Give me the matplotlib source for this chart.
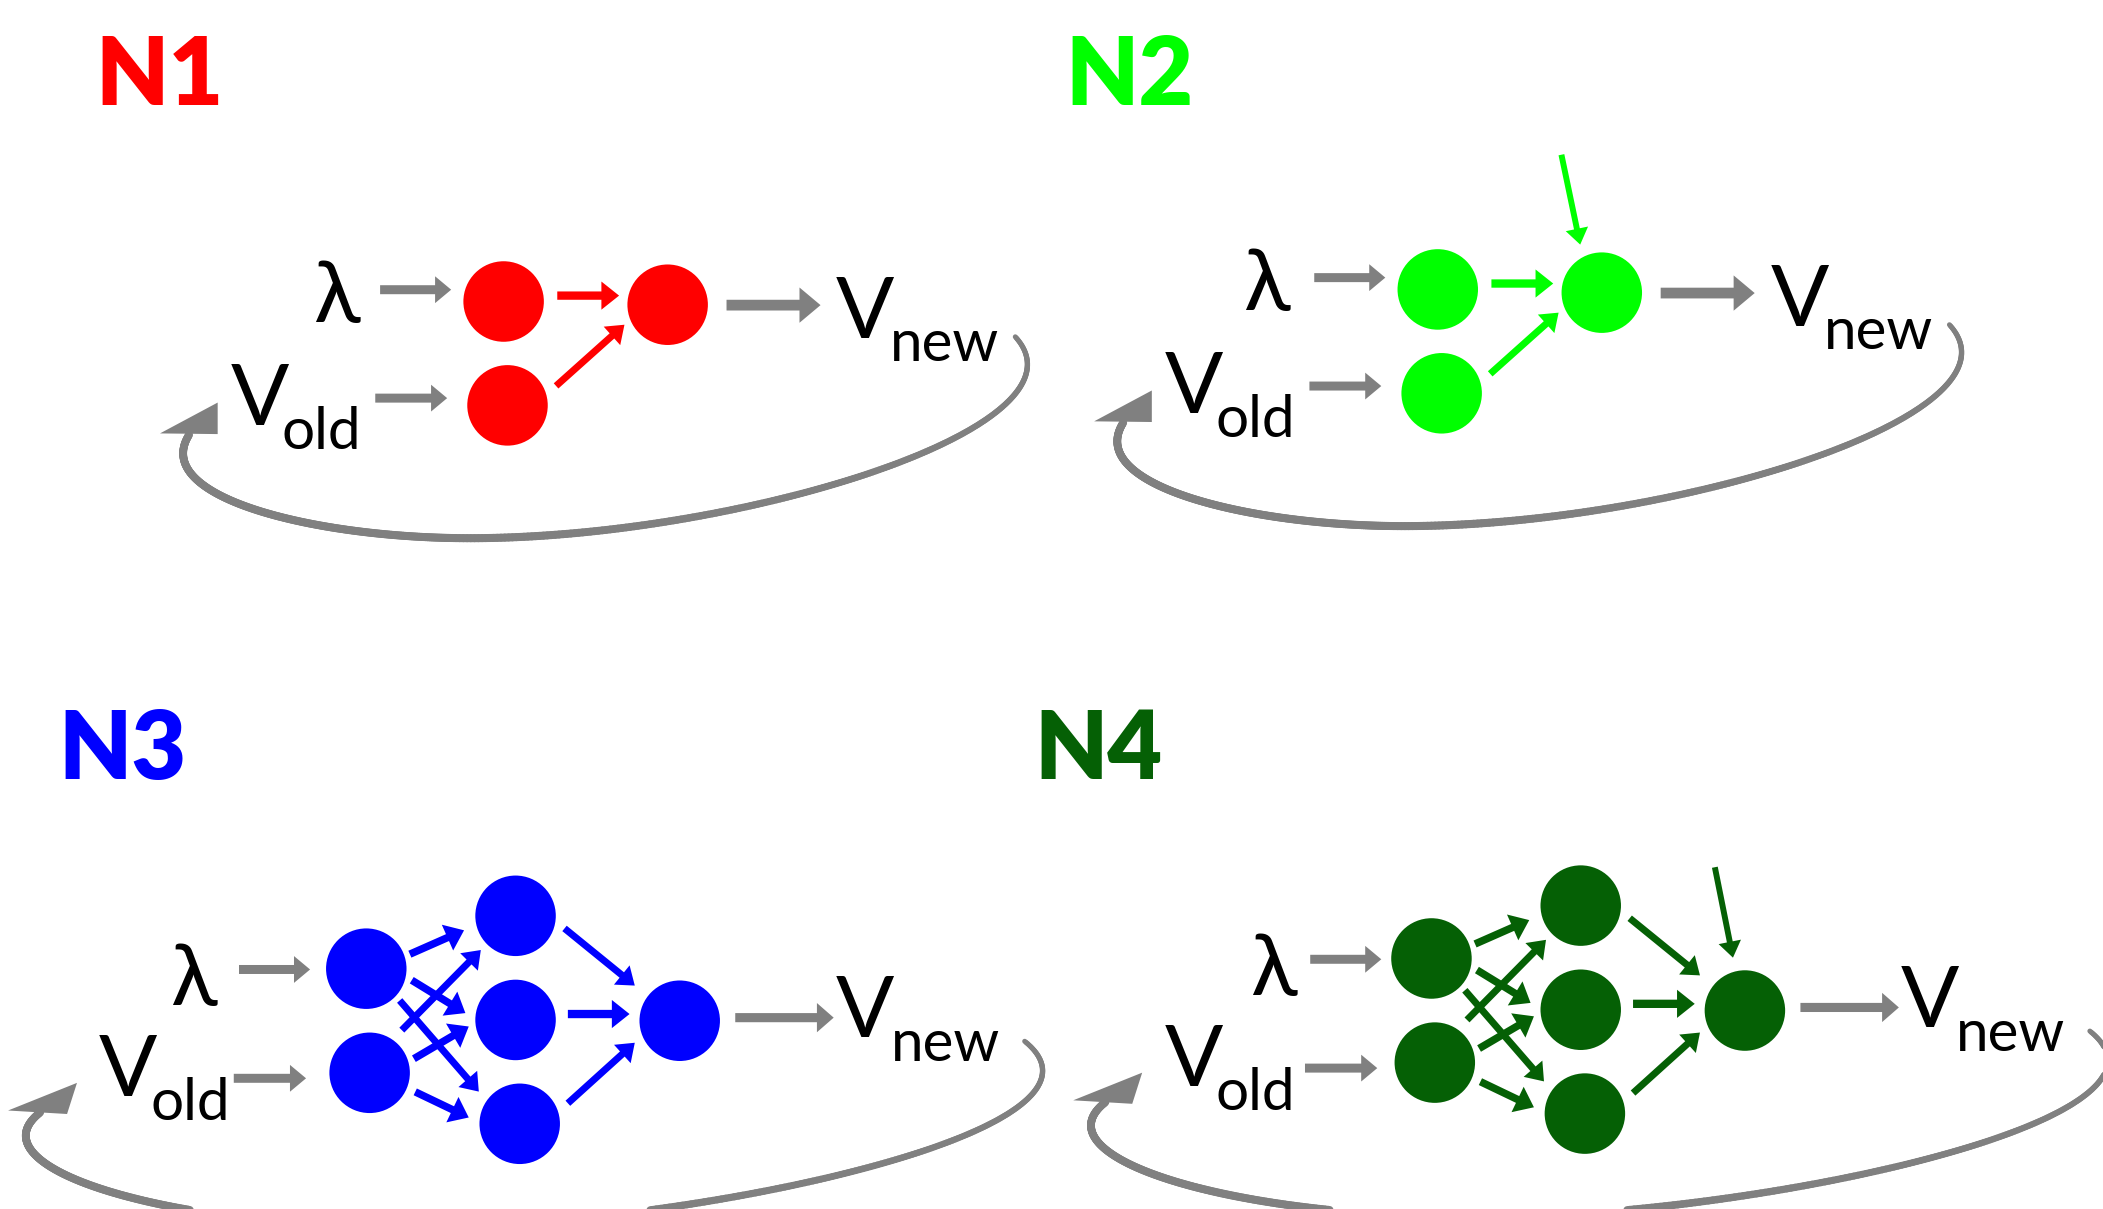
import numpy as np
import matplotlib
matplotlib.use("Agg")
import matplotlib.pyplot as plt
from matplotlib.patches import Circle, FancyArrow, Polygon
from matplotlib.collections import LineCollection
from matplotlib.bezier import BezierSegment

# ---------------- panel definitions ----------------
panel_names = ["N1", "N2", "N3", "N4"]
panel_colors = ["#FF0000", "#00FF00", "#0000FF", "#056005"]
panel_layout = ["shallow", "shallow", "deep", "deep"]
panel_shift = [(0.0, 0.0), (696.5, -9.0), (0.0, 0.0), (794.2, -7.6)]
title_xy = [(71.0, 78.5), (794.0, 78.5), (43.5, 580.8), (771.5, 580.8)]
has_bias = [False, True, False, True]
lambda_dx = [0.0, -3.5, 0.0, 11.0]
input_arrow_dx = [0.0, 0.0, 0.0, 4.5]

label_lambda = "λ"
label_v = "V"
label_old = "old"
label_new = "new"

GRAY = "#808080"

# ---------------- layout: shallow network (N1, N2) ----------------
shallow_nodes = [(375.5, 224.7), (497.8, 227.1), (378.4, 302.1)]
shallow_edges = [
    (0, 1, (40.0, -4.4), (-36.2, -6.8), "h"),
    (2, 1, (36.2, -14.5), (-32.2, 14.9), "d"),
]
shallow_out = 1
shallow_bias = ((-30.1, -102.8), (-16.1, -35.8))
shallow_lambda = (251.0, 240.3)
shallow_vold = (172.3, 316.7, 209.6, 334.4)
shallow_vnew = (623.4, 251.6, 663.3, 268.8)
shallow_in_arrows = [(283.4, 336.4, 215.9), (279.8, 333.4, 296.7)]
shallow_out_arrow = (541.7, 611.8, 227.4, "big")
shallow_loop = [[(757, 251), (820, 320), (540, 404), (340, 401)],
                [(340, 401), (230, 399.4), (112, 370), (141, 324)]]
shallow_head = [(119.3, 323.0), (162.3, 300.0), (162.3, 323.5)]

# ---------------- layout: deep network (N3, N4) ----------------
deep_nodes = [(273.1, 721.9), (275.6, 799.5), (384.4, 682.5),
              (384.4, 760.1), (387.5, 837.5), (506.8, 760.7)]
deep_edges = [
    (0, 2, (32.5, -10.8), (-38.4, 10.8), "m"),
    (0, 3, (33.9, 8.6), (-37.4, -5.1), "m"),
    (0, 4, (24.9, 23.7), (-30.5, -24.0), "d"),
    (1, 2, (24.0, -31.8), (-25.9, 25.5), "d"),
    (1, 3, (33.0, -10.5), (-34.9, 4.9), "m"),
    (1, 4, (34.0, 14.2), (-38.0, -4.7), "m"),
    (2, 5, (36.5, 9.4), (-33.5, -26.2), "d"),
    (3, 5, (39.0, -4.4), (-37.4, -5.0), "h"),
    (4, 5, (35.9, -15.3), (-33.5, 16.4), "d"),
]
deep_out = 5
deep_bias = ((-22.4, -106.8), (-8.9, -39.4))
deep_lambda = (144.0, 749.0)
deep_vold = (73.9, 816.9, 112.3, 835.0)
deep_vnew = (623.1, 773.0, 664.0, 790.9)
deep_in_arrows = [(178.2, 231.2, 722.5), (174.3, 228.2, 803.6)]
deep_out_arrow = (548.2, 621.6, 758.4, "med")
deep_loop = [[(764, 776), (850, 845), (500, 917), (300, 915)],
             [(300, 915), (110, 913.0), (-20, 868), (30, 829)]]
deep_head = [(6, 827.6), (57.4, 807), (50, 830.2)]

layouts = {
    "shallow": dict(nodes=shallow_nodes, edges=shallow_edges, out=shallow_out,
                    bias=shallow_bias, lam=shallow_lambda, vold=shallow_vold,
                    vnew=shallow_vnew, inarr=shallow_in_arrows,
                    outarr=shallow_out_arrow, loop=shallow_loop, head=shallow_head),
    "deep": dict(nodes=deep_nodes, edges=deep_edges, out=deep_out,
                 bias=deep_bias, lam=deep_lambda, vold=deep_vold,
                 vnew=deep_vnew, inarr=deep_in_arrows,
                 outarr=deep_out_arrow, loop=deep_loop, head=deep_head),
}

# arrow styles: (shaft width, head width, head length)
edge_style = {"h": (6.2, 21.0, 13.2), "m": (5.6, 21.0, 13.5), "d": (5.2, 18.5, 12.5)}
gray_style = {"small": (6.7, 20.0, 12.0), "big": (8.0, 26.3, 15.7), "med": (6.8, 21.8, 12.5)}
bias_style = (4.4, 17.0, 12.0)
NODE_R = 30.0

# ---------------- figure ----------------
W, H = 1568, 901
fig = plt.figure(figsize=(21.03, 12.09), dpi=100)
ax = fig.add_axes([0, 0, 1, 1])
ax.set_xlim(0, W)
ax.set_ylim(H, 0)
ax.axis("off")

FONT = ["Lato", "Open Sans", "DejaVu Sans"]


def arrow(x0, y0, x1, y1, style, color, z=3):
    w, hw, hl = style
    ax.add_patch(FancyArrow(x0, y0, x1 - x0, y1 - y0, width=w, head_width=hw,
                            head_length=hl, length_includes_head=True,
                            color=color, lw=0, zorder=z))


for i, name in enumerate(panel_names):
    L = layouts[panel_layout[i]]
    sx, sy = panel_shift[i]
    col = panel_colors[i]

    # title
    tx, ty = title_xy[i]
    ax.text(tx, ty, name, color=col, fontsize=68, fontweight="heavy",
            family=FONT, ha="left", va="baseline")

    # nodes
    nodes = [(x + sx, y + sy) for x, y in L["nodes"]]
    for (x, y) in nodes:
        ax.add_patch(Circle((x, y), NODE_R, color=col, lw=0, zorder=4))

    # edges
    for (a, b, so, eo, st) in L["edges"]:
        x0, y0 = nodes[a][0] + so[0], nodes[a][1] + so[1]
        x1, y1 = nodes[b][0] + eo[0], nodes[b][1] + eo[1]
        arrow(x0, y0, x1, y1, edge_style[st], col)

    # bias arrow
    if has_bias[i]:
        ox, oy = nodes[L["out"]]
        (bsx, bsy), (bex, bey) = L["bias"]
        arrow(ox + bsx, oy + bsy, ox + bex, oy + bey, bias_style, col)

    # input gray arrows
    for (xa, xb, y) in L["inarr"]:
        dx = input_arrow_dx[i]
        arrow(xa + sx + dx, y + sy, xb + sx + dx, y + sy, gray_style["small"], GRAY)
    xa, xb, y, st = L["outarr"]
    arrow(xa + sx, y + sy, xb + sx, y + sy, gray_style[st], GRAY)

    # labels
    lx, ly = L["lam"]
    ax.text(lx + sx + lambda_dx[i], ly + sy, label_lambda, fontsize=62,
            family=FONT, ha="center", va="baseline", color="black")
    vx, vy, subx, suby = L["vold"]
    ax.text(vx + sx, vy + sy, label_v, fontsize=62, family=FONT,
            ha="left", va="baseline", color="black")
    ax.text(subx + sx, suby + sy, label_old, fontsize=42, family=FONT,
            ha="left", va="baseline", color="black")
    vx, vy, subx, suby = L["vnew"]
    ax.text(vx + sx, vy + sy, label_v, fontsize=62, family=FONT,
            ha="left", va="baseline", color="black")
    ax.text(subx + sx, suby + sy, label_new, fontsize=42, family=FONT,
            ha="left", va="baseline", color="black")

    # feedback loop (tapered curve)
    pts = []
    t = np.linspace(0, 1, 220)
    for seg in L["loop"]:
        cp = np.array(seg, dtype=float) + np.array([sx, sy])
        pts.append(BezierSegment(cp)(t))
    pts = np.vstack(pts)
    segs = np.stack([pts[:-1], pts[1:]], axis=1)
    s = np.linspace(0, 1, len(segs))
    lws = np.interp(s, [0, 0.45, 1], [3.6, 5.8, 5.6])
    ax.add_collection(LineCollection(segs, linewidths=lws, colors=GRAY,
                                     capstyle="round", zorder=2))
    head = np.array(L["head"], dtype=float) + np.array([sx, sy])
    ax.add_patch(Polygon(head, closed=True, color=GRAY, lw=0, zorder=2))

fig.savefig("out.png", dpi=100)
